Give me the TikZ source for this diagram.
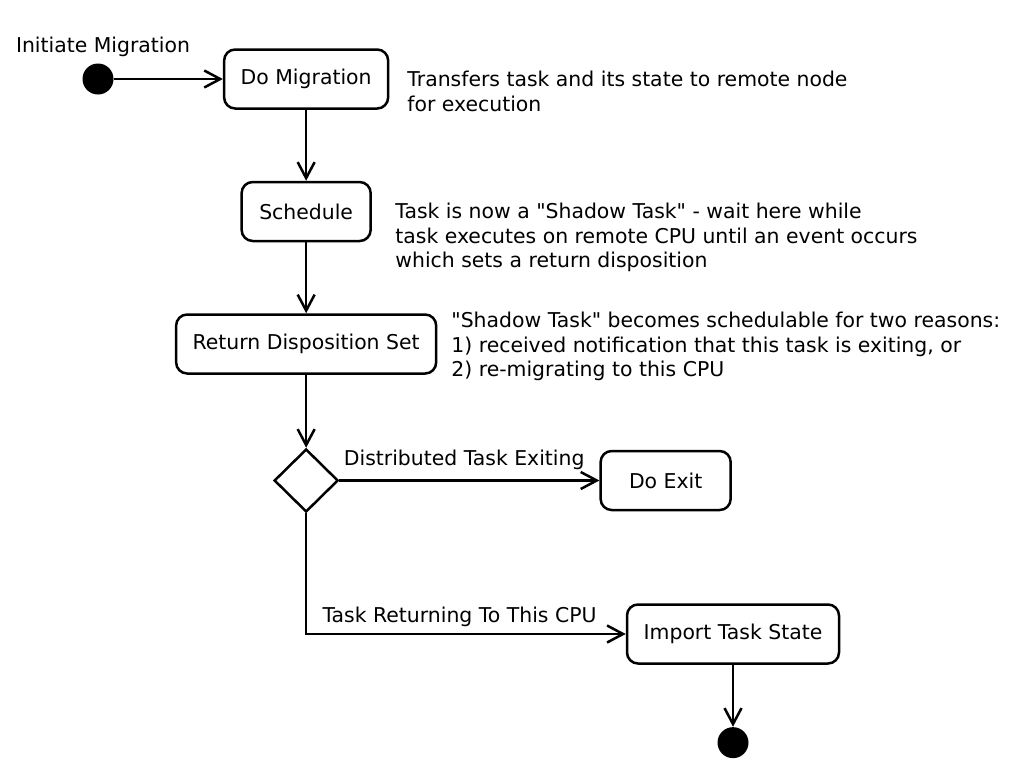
\documentclass[tikz,border=0pt]{standalone}
\usepackage{fontspec}
\setmainfont{DejaVu Sans}[Ligatures=TeXOff]
\usetikzlibrary{shapes,arrows.meta,positioning}

\begin{document}
\begin{tikzpicture}[x=0.5pt, y=-0.5pt, node distance=35.5pt, font=\fontsize{10.2}{12.25}\selectfont]

% Define styles
\tikzstyle{activity} = [rectangle, rounded corners=5.5pt, minimum height=29.5pt, text centered, draw=black, line width=1.25pt]
\tikzstyle{dot} = [circle, fill=black, minimum size=15.5pt, inner sep=0pt]
\tikzstyle{decision} = [diamond, draw=black, minimum width=32pt, minimum height=31.5pt, inner sep=0pt, line width=1.25pt]
\tikzstyle{note} = [anchor=north west, align=left, inner sep=0pt]
\tikzstyle{arrow} = [line width=1.25pt, -{Straight Barb[length=8pt,width=8.5pt]}]

\useasboundingbox (0,0) rectangle (1022,766);

% Start point
\node (start) [dot] at (98,79) {};
\node (start_lbl) [above=3pt of start, xshift=2.5pt, inner sep=0pt] {Initiate Migration};

% Main flow
\node (mig) [activity, minimum width=82pt, right=54.5pt of start] {Do Migration};
\node (sched) [activity, minimum width=64.5pt, below=of mig] {Schedule};
\node (ret) [activity, minimum width=130pt, below=of sched] {Return Disposition Set};
\node (dec) [decision, below=36.5pt of ret] {};
\node (exit) [activity, minimum width=65pt, right=130pt of dec] {Do Exit};
\node (imp) [activity, minimum width=106pt] at (733,634) {Import Task State};
\node (end) [dot, below=31pt of imp] {};

% Notes
\node (note_mig) [note] at (407,71) {Transfers task and its state to remote node\\for execution};
\node (note_sched) [note] at (395,203) {Task is now a "Shadow Task" - wait here while\\task executes on remote CPU until an event occurs\\which sets a return disposition};
\node (note_ret) [note] at (451,312) {"Shadow Task" becomes schedulable for two reasons:\\1) received notification that this task is exiting, or\\2) re-migrating to this CPU};

% Connect activities
\draw [arrow] (start) -- (mig);
\draw [arrow] (mig) -- (sched);
\draw [arrow] (sched) -- (ret);
\draw [arrow] (ret) -- (dec);
\draw [arrow] (dec) -- node [above=5pt, inner sep=0pt, pos=0.48] (lbl_exit) {Distributed Task Exiting} (exit);
\draw [arrow] (dec) |- node [above=3pt, inner sep=0pt, pos=0.74] (lbl_ret) {Task Returning To This CPU} (imp);
\draw [arrow] (imp) -- (end);

\end{tikzpicture}
\end{document}
